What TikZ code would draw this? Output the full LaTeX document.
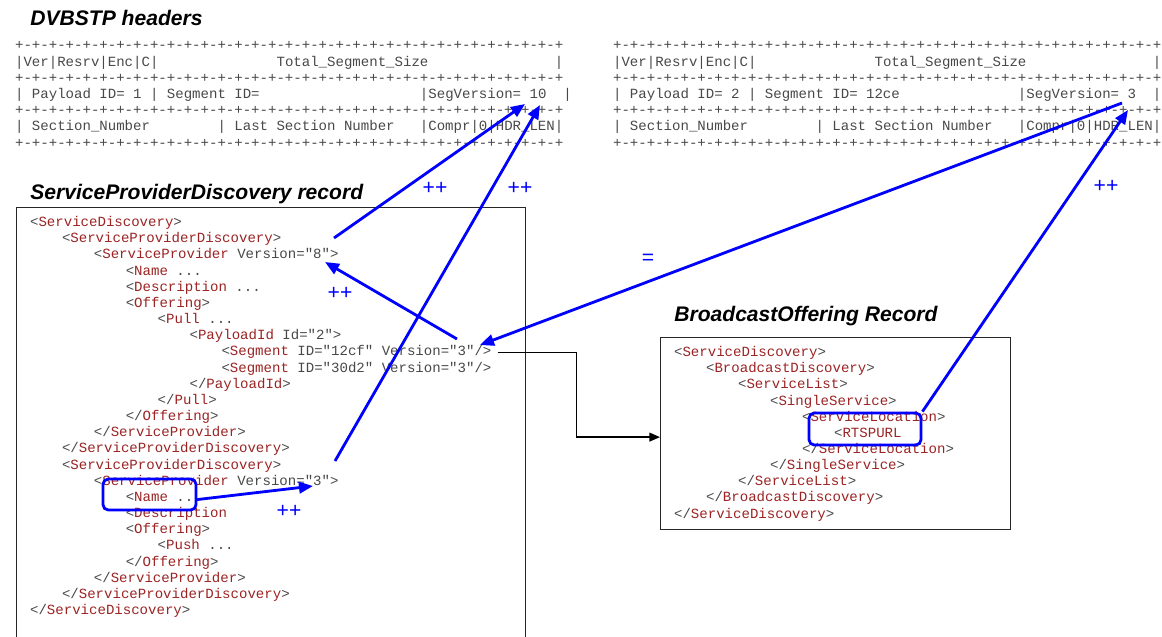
\documentclass[tikz,border=0pt]{standalone}
\usepackage{fontspec}
\setmainfont{Liberation Sans}
\newfontfamily\xmlfont{Liberation Mono}
\usetikzlibrary{arrows.meta}
\definecolor{tagred}{RGB}{155,35,35}
\definecolor{codegray}{RGB}{72,72,72}
\newcommand\tg[1]{\textcolor{tagred}{#1}}
\newcommand\gap[1]{\hspace*{#1\dimexpr0.6em\relax}}
\newcommand\rul{+-+-+-+-+-+-+-+-+-+-+-+-+-+-+-+-+-+-+-+-+-+-+-+-+-+-+-+-+-+-+-+-+}
\frenchspacing

\begin{document}
\begin{tikzpicture}[x=0.02cm,y=-0.02cm,
  code/.style={font={\xmlfont\fontsize{8}{9}\selectfont}, text=codegray, anchor=base west, inner sep=1pt},
  title/.style={font={\bfseries\itshape\fontsize{12}{14}\selectfont}, anchor=base west, inner sep=0pt},
  incr/.style={font={\fontsize{12}{14}\selectfont}, text=blue, inner sep=0pt},
  frame/.style={draw=black!85, line width=0.7pt, anchor=north west, inner sep=0pt},
  hilite/.style={draw=blue, line width=1.6pt, rounded corners=3pt, inner sep=0pt},
  link/.style={draw=blue, line width=1.6pt, -{Triangle[length=8pt,width=6.5pt]}},
  blk/.style={draw=black, line width=0.8pt, -{Triangle[length=6pt,width=5pt]}}]
 \useasboundingbox (0,0) rectangle (1162,636);
 \node[title] (hdrtitle) at (30,25.5) {DVBSTP headers};
 \node[title] (spdtitle) at (30,199) {ServiceProviderDiscovery record};
 \node[title] (botitle) at (674,321.5) {BroadcastOffering Record};
 % header of the first segment
 \foreach \r in {0,2,4,6} \node[code] (ha\r) at (13,49.8+16.2*\r) {\rul};
 \node[code] (ha1) at (13,66) {|Ver|Resrv|Enc|C|\gap{14}Total\_Segment\_Size\gap{15}|};
 \node[code] (ha3) at (13,98.2) {| Payload ID= 1 | Segment ID=\gap{19}|SegVersion= 10\gap{2}|};
 \node[code] (ha5) at (13,130.6) {| Section\_Number\gap{8}| Last Section Number\gap{3}|Compr|0|HDR\_LEN|};
 % header of the second segment
 \foreach \r in {0,2,4,6} \node[code] (hb\r) at (611,49.8+16.2*\r) {\rul};
 \node[code] (hb1) at (611,66) {|Ver|Resrv|Enc|C|\gap{14}Total\_Segment\_Size\gap{15}|};
 \node[code] (hb3) at (611,98.2) {| Payload ID= 2 | Segment ID= 12ce\gap{14}|SegVersion= 3\gap{2}|};
 \node[code] (hb5) at (611,130.6) {| Section\_Number\gap{8}| Last Section Number\gap{3}|Compr|0|HDR\_LEN|};
 % records
 \node[frame, minimum width=10.18cm, minimum height=8.8cm] (spdbox) at (16,207) {};
 \node[frame, minimum width=7cm, minimum height=3.84cm] (bobox) at (660,337) {};
 \foreach \lv/\txt [count=\i from 0] in {
   0/{<\tg{ServiceDiscovery}>},
   1/{<\tg{ServiceProviderDiscovery}>},
   2/{<\tg{ServiceProvider} Version="8">},
   3/{<\tg{Name} ...},
   3/{<\tg{Description} ...},
   3/{<\tg{Offering}>},
   4/{<\tg{Pull} ...},
   5/{<\tg{PayloadId} Id="2">},
   6/{<\tg{Segment} ID="12cf" Version="3"/>},
   6/{<\tg{Segment} ID="30d2" Version="3"/>},
   5/{</\tg{PayloadId}>},
   4/{</\tg{Pull}>},
   3/{</\tg{Offering}>},
   2/{</\tg{ServiceProvider}>},
   1/{</\tg{ServiceProviderDiscovery}>},
   1/{<\tg{ServiceProviderDiscovery}>},
   2/{<\tg{ServiceProvider} Version="3">},
   3/{<\tg{Name} ...},
   3/{<\tg{Description}},
   3/{<\tg{Offering}>},
   4/{<\tg{Push} ...},
   3/{</\tg{Offering}>},
   2/{</\tg{ServiceProvider}>},
   1/{</\tg{ServiceProviderDiscovery}>},
   0/{</\tg{ServiceDiscovery}>}}
   \node[code] (spd\i) at (28+31.9*\lv,226.5+16.17*\i) {\txt};
 \foreach \lv/\txt [count=\i from 0] in {
   0/{<\tg{ServiceDiscovery}>},
   1/{<\tg{BroadcastDiscovery}>},
   2/{<\tg{ServiceList}>},
   3/{<\tg{SingleService}>},
   4/{<\tg{ServiceLocation}>},
   5/{<\tg{RTSPURL}},
   4/{</\tg{ServiceLocation}>},
   3/{</\tg{SingleService}>},
   2/{</\tg{ServiceList}>},
   1/{</\tg{BroadcastDiscovery}>},
   0/{</\tg{ServiceDiscovery}>}}
   \node[code] (bo\i) at (672+32*\lv,356.7+16.13*\i) {\txt};
 \draw[blk] (spd8.east) ++(4,0) -- ++(79,0) |- ([yshift=-2pt]bobox.west);
 % version links
 \node[hilite, minimum width=1.86cm, minimum height=0.62cm] (namebox) at (149.5,494.5) {};
 \node[hilite, minimum width=2.24cm, minimum height=0.64cm] (urlbox) at (865,429) {};
 \coordinate (sv10a) at (525,104);
 \coordinate (sv10b) at (540,105);
 \coordinate (sv3) at (1122,103);
 \coordinate (sv3tip) at (1128,110);
 \coordinate (spdA) at (334,238);
 \coordinate (spdB) at (335,461);
 \coordinate (ver8) at (325,262);
 \coordinate (ver3) at (313,486);
 \coordinate (seg) at (457,339);
 \coordinate (segtip) at (480,345);
 \draw[link] (spdA) -- (sv10a);
 \draw[link] (spdB) -- (sv10b);
 \draw[link] (seg) -- (ver8);
 \draw[link] (sv3) -- (segtip);
 \draw[link] (urlbox.north east) -- (sv3tip);
 \draw[link] (namebox.-6) -- (ver3);
 \node[incr] (inc1) at (435,188) {++};
 \node[incr] (inc2) at (520,188) {++};
 \node[incr] (inc3) at (340,293) {++};
 \node[incr] (inc4) at (289,511) {++};
 \node[incr] (inc5) at (1106,186) {++};
 \node[incr] (same) at (648,259) {=};
\end{tikzpicture}
\end{document}
